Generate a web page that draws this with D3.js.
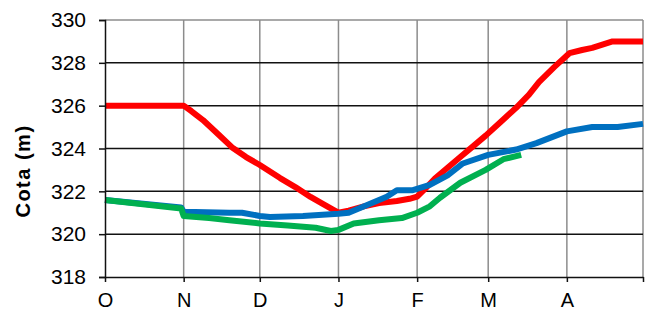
<!DOCTYPE html>
<html>
<head>
<meta charset="utf-8">
<script src="https://cdn.jsdelivr.net/npm/d3@7"></script>
<style>
    body { margin: 0; background: #fff; }
    svg { display: block; font-family: 'Liberation Sans Narrow', 'Liberation Sans', Arial, sans-serif; }
</style>
</head>
<body>
<svg id="chart" width="652" height="311"></svg>
<script>
    // month starts as day offsets from 1 Oct (O N D J F M A, end 1 May)
    const monthDays = [0, 31, 61, 92, 123, 151, 182, 212];
    const monthLabels = ["O", "N", "D", "J", "F", "M", "A"];
    const yTicks = [318, 320, 322, 324, 326, 328, 330];

    // [day, cota]
    const redSeries = [
        [0, 326], [31, 326], [34, 325.75], [38.6, 325.33], [44.5, 324.68], [50.4, 324.02],
        [55.6, 323.6], [61, 323.23], [69, 322.62], [75, 322.2], [81, 321.74], [86, 321.4],
        [90, 321.13], [92, 321.0], [96, 321.1], [102, 321.3], [108, 321.45], [115, 321.55],
        [120, 321.65], [123, 321.75], [126, 322.1], [130, 322.6], [135, 323.1], [140, 323.6],
        [145, 324.1], [150, 324.6], [156, 325.25], [162, 325.9], [167, 326.5], [171, 327.1],
        [177, 327.8], [183, 328.45], [188, 328.6], [192, 328.7], [196, 328.85], [200, 329.0],
        [212, 329.0]
    ];
    const blueSeries = [
        [0, 321.6], [30, 321.25], [31, 321.05], [49, 321.0], [54, 321.0], [61, 320.85],
        [65, 320.8], [78, 320.85], [92, 320.95], [96, 321.0], [104, 321.4], [111, 321.75],
        [115, 322.05], [121, 322.05], [128, 322.3], [135, 322.75], [141, 323.3], [151, 323.7],
        [162, 323.95], [170, 324.25], [182, 324.8], [192, 325.0], [202, 325.0], [212, 325.15]
    ];
    const greenSeries = [
        [0, 321.6], [30, 321.2], [31, 320.85], [41, 320.75], [49, 320.65], [61, 320.5],
        [72, 320.4], [83, 320.3], [89, 320.15], [92, 320.2], [98, 320.5], [108, 320.65],
        [117, 320.75], [123, 321.0], [128, 321.3], [132, 321.7], [140, 322.4], [150, 323.0],
        [157, 323.5], [164, 323.7]
    ];

    const svg = d3.select("#chart");
    const plotLeft = 105, plotRight = 643, plotTop = 20, plotBottom = 277;

    const x = d3.scaleLinear().domain([0, 212]).range([plotLeft, plotRight]);
    const y = d3.scaleLinear().domain([318, 330]).range([plotBottom, plotTop]);

    // vertical grid (gray) incl. right border
    svg.append("g").selectAll("line")
        .data(monthDays.slice(1))
        .join("line")
        .attr("x1", d => x(d)).attr("x2", d => x(d))
        .attr("y1", plotTop).attr("y2", plotBottom)
        .attr("stroke", "#8c8c8c").attr("stroke-width", 1.5);

    // top border (gray)
    svg.append("line")
        .attr("x1", plotLeft).attr("x2", plotRight).attr("y1", plotTop).attr("y2", plotTop)
        .attr("stroke", "#8c8c8c").attr("stroke-width", 1.5);

    // horizontal grid (black)
    svg.append("g").selectAll("line")
        .data(yTicks.filter(v => v > 318 && v < 330))
        .join("line")
        .attr("x1", plotLeft).attr("x2", plotRight)
        .attr("y1", d => y(d)).attr("y2", d => y(d))
        .attr("stroke", "#111").attr("stroke-width", 1.5);

    const line = d3.line().x(d => x(d[0])).y(d => y(d[1]));

    [[redSeries, "#ff0000"], [blueSeries, "#0070c0"], [greenSeries, "#00b050"]].forEach(s => {
        svg.append("path")
            .datum(s[0])
            .attr("d", line)
            .attr("fill", "none")
            .attr("stroke", s[1])
            .attr("stroke-width", 6)
            .attr("stroke-linejoin", "round");
    });

    // y axis
    const yAxis = svg.append("g")
        .attr("transform", `translate(${plotLeft},0)`)
        .call(d3.axisLeft(y).tickValues(yTicks).tickSize(6).tickPadding(13).tickFormat(d3.format("d")));
    yAxis.select(".domain").attr("stroke", "#111").attr("stroke-width", 1.5);
    yAxis.selectAll(".tick line").attr("stroke", "#111").attr("stroke-width", 1.5);
    yAxis.selectAll("text").attr("font-size", 21).attr("fill", "#000");

    // x axis
    const xAxis = svg.append("g")
        .attr("transform", `translate(0,${plotBottom})`)
        .call(d3.axisBottom(x).tickValues(monthDays).tickSize(5).tickSizeOuter(0).tickPadding(11)
            .tickFormat((d, i) => monthLabels[i] || ""));
    xAxis.select(".domain").attr("stroke", "#111").attr("stroke-width", 1.5);
    xAxis.selectAll(".tick line").attr("stroke", "#111").attr("stroke-width", 1.5);
    xAxis.selectAll("text").attr("font-size", 20).attr("fill", "#000");

    svg.append("text")
        .attr("transform", `translate(30,171) rotate(-90)`)
        .attr("text-anchor", "middle")
        .attr("font-family", "'Liberation Sans', Arial, sans-serif")
        .attr("font-weight", "bold")
        .attr("font-size", 20)
        .attr("letter-spacing", 1.5)
        .text("Cota (m)");
</script>
</body>
</html>
